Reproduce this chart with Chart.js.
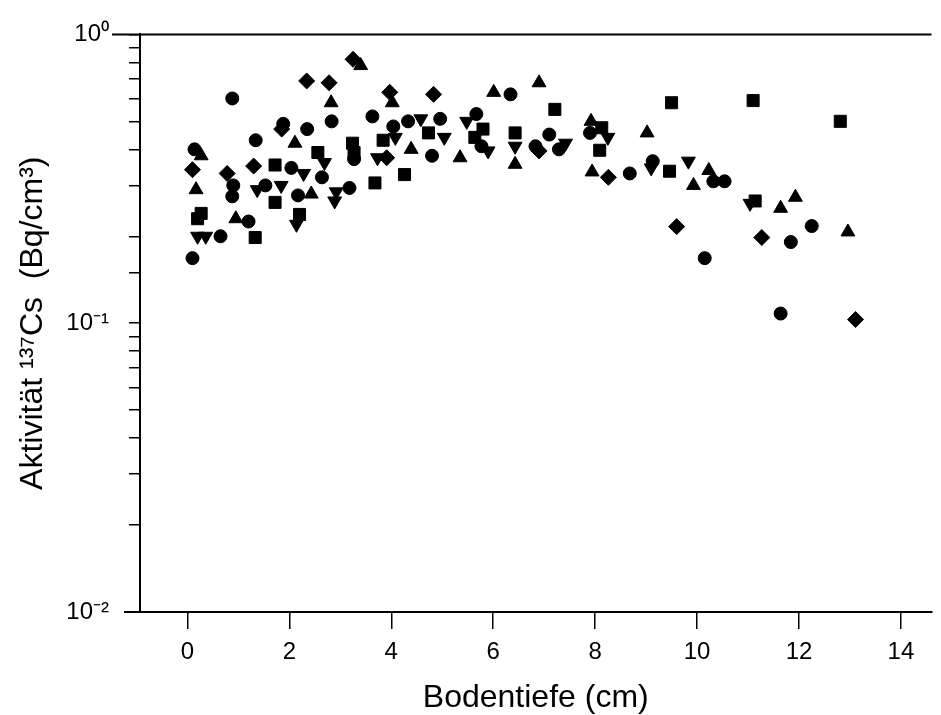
<!DOCTYPE html>
<html>
<head>
<meta charset="utf-8">
<script src="https://cdn.jsdelivr.net/npm/chart.js@4/dist/chart.umd.min.js"></script>
<style>
  html, body { margin: 0; padding: 0; background: #fff; }
  #wrap { width: 941px; height: 715px; }
</style>
</head>
<body>
<div id="wrap"><canvas id="myChart" width="941" height="715"></canvas></div>
<script>
// Bodentiefe (cm) / Aktivität (Bq/cm³), one pair of arrays per marker shape
const circleX = [0.10, 0.14, 0.65, 0.88, 0.88, 0.90, 1.20, 1.34, 1.53, 1.88, 2.04, 2.17, 2.35, 2.64, 2.83, 3.18, 3.27, 3.63, 4.04, 4.33, 4.80, 4.96, 5.67, 5.77, 6.34, 6.83, 7.10, 7.29, 7.90, 8.68, 9.13, 10.15, 10.32, 10.54, 11.64, 11.84, 12.25];
const circleY = [0.168, 0.40, 0.20, 0.60, 0.275, 0.30, 0.225, 0.43, 0.30, 0.49, 0.345, 0.277, 0.47, 0.32, 0.50, 0.294, 0.37, 0.52, 0.48, 0.50, 0.38, 0.51, 0.53, 0.41, 0.62, 0.41, 0.45, 0.40, 0.456, 0.33, 0.364, 0.168, 0.31, 0.31, 0.108, 0.191, 0.217];

const squareX = [0.20, 0.27, 1.33, 1.72, 1.72, 2.20, 2.56, 3.24, 3.27, 3.68, 3.84, 4.26, 4.73, 5.64, 5.80, 6.43, 7.21, 8.09, 8.13, 9.46, 9.50, 11.14, 11.10, 12.81];
const squareY = [0.23, 0.24, 0.198, 0.353, 0.262, 0.238, 0.39, 0.42, 0.39, 0.306, 0.43, 0.327, 0.456, 0.44, 0.47, 0.456, 0.55, 0.397, 0.475, 0.336, 0.58, 0.265, 0.59, 0.50];

const triangleX = [0.17, 0.27, 0.95, 2.11, 2.43, 2.82, 3.40, 4.02, 4.39, 5.35, 6.01, 6.43, 6.90, 7.92, 7.94, 9.02, 9.93, 10.23, 11.64, 11.93, 12.96];
const triangleY = [0.29, 0.38, 0.23, 0.42, 0.28, 0.58, 0.78, 0.58, 0.40, 0.374, 0.63, 0.355, 0.68, 0.50, 0.334, 0.456, 0.30, 0.338, 0.25, 0.273, 0.207];

const downX = [0.20, 0.36, 1.37, 1.84, 2.14, 2.28, 2.69, 2.89, 2.92, 3.73, 4.08, 4.58, 5.04, 5.48, 5.90, 6.43, 7.42, 8.25, 9.10, 9.83, 11.04];
const downY = [0.20, 0.20, 0.29, 0.30, 0.22, 0.33, 0.36, 0.265, 0.285, 0.374, 0.44, 0.51, 0.44, 0.50, 0.395, 0.41, 0.42, 0.44, 0.345, 0.364, 0.26];

const diamondX = [0.10, 0.78, 1.30, 1.85, 2.34, 2.78, 3.25, 3.91, 3.97, 4.83, 6.90, 8.26, 9.60, 11.27, 13.11];
const diamondY = [0.34, 0.33, 0.35, 0.47, 0.69, 0.68, 0.82, 0.374, 0.63, 0.62, 0.395, 0.32, 0.216, 0.198, 0.103];

const xTicks = [0, 2, 4, 6, 8, 10, 12, 14];
const yLabels = { 1: "10\u2070", 0.1: "10\u207B\u00B9", 0.01: "10\u207B\u00B2" };

const toPoints = (xs, ys) => xs.map((x, i) => ({ x: x, y: ys[i] }));

const font = "'Liberation Sans', Arial, sans-serif";

// top frame line and the little stubs of the frame past the y axis
const frameLines = {
  id: "frameLines",
  afterDraw(chart) {
    const { ctx, chartArea } = chart;
    ctx.save();
    ctx.strokeStyle = "#000";
    ctx.lineWidth = 2;
    ctx.beginPath();
    ctx.moveTo(chartArea.left - 28, chartArea.top);
    ctx.lineTo(chartArea.right, chartArea.top);
    ctx.moveTo(chartArea.left - 16, chartArea.bottom);
    ctx.lineTo(chartArea.left, chartArea.bottom);
    ctx.stroke();
    ctx.restore();
  },
};

const mk = (data, style, rot, r) => ({
  data: data,
  pointStyle: style,
  rotation: rot,
  radius: r,
  backgroundColor: "#000",
  borderColor: "#000",
  borderWidth: 1,
});

const ctx = document.getElementById("myChart");
new Chart(ctx, {
  type: "scatter",
  data: {
    datasets: [
      mk(toPoints(circleX, circleY), "circle", 0, 6.5),
      mk(toPoints(squareX, squareY), "rect", 0, 8.5),
      mk(toPoints(triangleX, triangleY), "triangle", 0, 8),
      mk(toPoints(downX, downY), "triangle", 180, 8),
      mk(toPoints(diamondX, diamondY), "rectRot", 0, 8),
    ],
  },
  options: {
    responsive: false,
    animation: false,
    layout: { padding: { top: 33, right: 1, left: 0, bottom: 0 } },
    plugins: { legend: { display: false }, tooltip: { enabled: false } },
    scales: {
      x: {
        type: "linear",
        min: -0.93,
        max: 14.6,
        afterFit: (s) => { s.height = 103; },
        afterBuildTicks: (s) => { s.ticks = xTicks.map((v) => ({ value: v })); },
        border: { display: true, color: "#000", width: 2 },
        grid: { drawOnChartArea: false, drawTicks: true, tickLength: 17, color: "#000", lineWidth: 1.5 },
        ticks: { color: "#000", padding: 9, font: { family: font, size: 24 } },
        title: {
          display: true,
          text: "Bodentiefe (cm)",
          color: "#000",
          font: { family: font, size: 32, lineHeight: 1 },
          padding: { top: 0, bottom: 1 },
        },
      },
      y: {
        type: "logarithmic",
        min: 0.01,
        max: 1,
        afterFit: (s) => { s.width = 140; },
        border: { display: true, color: "#000", width: 2 },
        grid: { drawOnChartArea: false, drawTicks: true, tickLength: 11, color: "#000", lineWidth: 1.5 },
        ticks: {
          color: "#000",
          autoSkip: false,
          padding: 20,
          font: { family: font, size: 24 },
          callback: (v) => {
            for (const k in yLabels) {
              if (Math.abs(v - Number(k)) < 1e-9) return yLabels[k];
            }
            return "";
          },
        },
        title: {
          display: true,
          text: "Aktivität \u00B9\u00B3\u2077Cs  (Bq/cm\u00B3)",
          color: "#000",
          font: { family: font, size: 32, lineHeight: 1 },
          padding: { top: 17, bottom: 0 },
        },
      },
    },
  },
  plugins: [frameLines],
});
</script>
</body>
</html>
